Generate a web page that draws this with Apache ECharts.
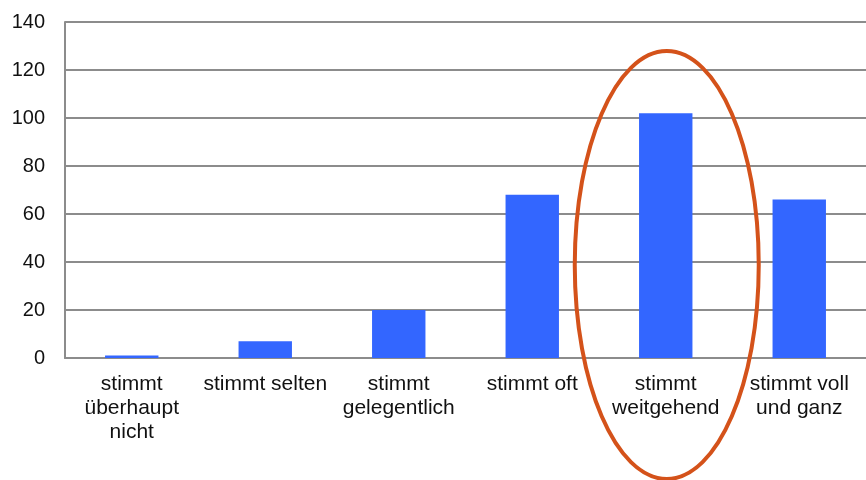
<!DOCTYPE html>
<html>
<head>
<meta charset="utf-8">
<script src="https://cdn.jsdelivr.net/npm/echarts@6/dist/echarts.min.js"></script>
<style>
  html, body { margin: 0; padding: 0; background: #fff; }
  #chart { width: 866px; height: 480px; }
</style>
</head>
<body>
<div id="chart"></div>
<script>
var categories = ['stimmt\nüberhaupt\nnicht', 'stimmt selten', 'stimmt\ngelegentlich', 'stimmt oft', 'stimmt\nweitgehend', 'stimmt voll\nund ganz'];
var values = [1, 7, 20, 68, 102, 66];
var yTicks = [0, 20, 40, 60, 80, 100, 120, 140];

var chart = echarts.init(document.getElementById('chart'));
chart.setOption({
    animation: false,
    backgroundColor: '#fff',
    grid: { left: 65, top: 22, width: 807, height: 336, containLabel: false },
    xAxis: {
        type: 'category',
        data: categories,
        axisLine: { lineStyle: { color: '#8c8c8c', width: 2 } },
        axisTick: { show: false },
        axisLabel: {
            color: '#111',
            fontFamily: 'Liberation Sans',
            fontSize: 21,
            lineHeight: 24,
            margin: 14,
            interval: 0
        }
    },
    yAxis: {
        type: 'value',
        min: yTicks[0],
        max: yTicks[yTicks.length - 1],
        interval: 20,
        axisLine: { show: true, lineStyle: { color: '#8c8c8c', width: 2 } },
        axisTick: { show: false },
        splitLine: { lineStyle: { color: '#8c8c8c', width: 2 } },
        axisLabel: {
            color: '#111',
            fontFamily: 'Liberation Sans',
            fontSize: 20,
            margin: 20
        }
    },
    series: [{
        type: 'bar',
        data: values,
        barWidth: '40%',
        itemStyle: { color: '#3366ff' }
    }]
});

// orange ellipse highlighting "stimmt weitgehend"
var cx = chart.convertToPixel({ xAxisIndex: 0 }, categories[4]);
chart.setOption({
    graphic: [{
        type: 'ellipse',
        shape: { cx: cx + 1, cy: 265, rx: 92, ry: 214 },
        style: { fill: 'none', stroke: '#d4521a', lineWidth: 4 },
        z: 100
    }]
});
</script>
</body>
</html>
